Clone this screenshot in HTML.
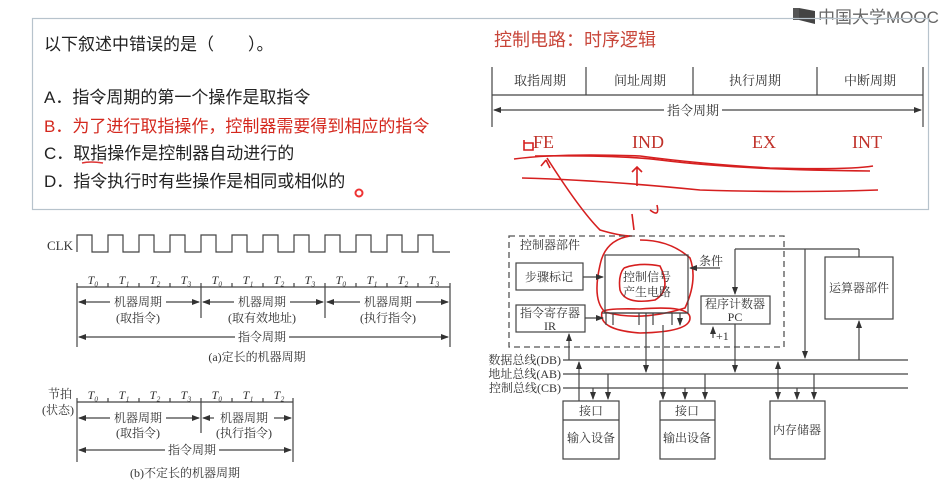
<!DOCTYPE html>
<html><head><meta charset="utf-8"><style>
html,body{margin:0;padding:0;background:#fff;width:945px;height:495px;overflow:hidden}
svg{display:block}
.q{font-family:"Liberation Sans","Noto Sans CJK SC",sans-serif;font-size:17px;fill:#222}
.s{font-family:"Liberation Serif","Noto Serif CJK SC",serif;fill:#333}
</style></head><body>
<svg width="945" height="495" viewBox="0 0 945 495" xmlns="http://www.w3.org/2000/svg">
<defs>
<marker id="a" markerWidth="8" markerHeight="6" refX="7" refY="3" orient="auto" markerUnits="userSpaceOnUse"><path d="M0,0 L8,3 L0,6z" fill="#333"/></marker>
</defs>
<!-- logo -->
<rect x="793" y="8" width="6" height="12" fill="#555"/><path d="M799,8 L815,11 L815,24 L799,20z" fill="#444"/>
<text x="818" y="23" font-family="Liberation Sans,'Noto Sans CJK SC',sans-serif" font-size="17" fill="#666">中国大学MOOC</text>
<!-- question box -->
<rect x="32.5" y="18.5" width="896" height="191" fill="none" stroke="#b7c3cc" stroke-width="1.2"/>
<text class="q" x="44" y="50">以下叙述中错误的是（　　）。</text>
<text class="q" x="44" y="103">A．指令周期的第一个操作是取指令</text>
<text class="q" x="44" y="132" style="fill:#d4281e">B．为了进行取指操作，控制器需要得到相应的指令</text>
<text class="q" x="44" y="159">C．取指操作是控制器自动进行的</text>
<text class="q" x="44" y="187">D．指令执行时有些操作是相同或相似的</text>
<path d="M82,163 Q90,161 103,163" stroke="#d33" stroke-width="1.5" fill="none"/>
<circle cx="359" cy="193" r="3.5" fill="none" stroke="#e33" stroke-width="2"/>
<!-- top right -->
<text x="494" y="46" font-family="Liberation Sans,'Noto Sans CJK SC',sans-serif" font-size="18" fill="#c8463a">控制电路：时序逻辑</text>
<g stroke="#444" stroke-width="1.2" fill="none">
<line x1="492" y1="67" x2="492" y2="127"/><line x1="923" y1="67" x2="923" y2="127"/>
<line x1="586" y1="67" x2="586" y2="95"/><line x1="693" y1="67" x2="693" y2="95"/><line x1="817" y1="67" x2="817" y2="95"/>
<line x1="492" y1="95" x2="923" y2="95"/>
<line x1="664" y1="110" x2="494" y2="110" marker-end="url(#a)"/>
<line x1="722" y1="110" x2="921" y2="110" marker-end="url(#a)"/>
</g>
<g class="s" font-size="13" text-anchor="middle">
<text x="540" y="85">取指周期</text><text x="640" y="85">间址周期</text><text x="755" y="85">执行周期</text><text x="870" y="85">中断周期</text>
<text x="693" y="115">指令周期</text>
</g>
<g font-family="Liberation Serif,serif" font-size="18" fill="#c0322a">
<text x="533" y="148">FE</text><text x="632" y="148">IND</text><text x="752" y="148">EX</text><text x="852" y="148">INT</text>
</g>
<g stroke="#d61f1f" stroke-width="1.6" fill="none">
<path d="M514,159 Q560,153 640,156 Q700,164 770,168 Q850,170 873,166"/>
<path d="M535,156 Q620,155 660,160 Q740,170 870,171"/>
<path d="M522,178 Q600,180 700,190 Q800,193 878,190"/>
<path d="M637,186 L637,167 M632,172 L637,167 L642,172"/>
<path d="M547,158 Q580,210 600,230 Q620,236 632,236"/>
<path d="M546,160 L550,168 M546,160 L541,166"/>
<path d="M524,140 L524,150 L533,150 L533,143 L524,143"/>
<path d="M632,214 L634,230 M650,210 Q660,218 657,205"/>
<path d="M630,236 Q605,240 600,265 Q592,300 605,312 Q640,322 685,308 Q698,280 690,258 Q670,240 640,240"/>
<path d="M624,268 Q640,262 660,266 Q672,290 655,300 Q625,305 620,290 Q618,275 624,268"/>
<path d="M602,312 Q598,330 640,333 Q690,332 690,318 Q690,305 640,309 Q605,308 602,312"/>
</g>
<!-- left timing diagrams -->
<text class="s" x="47" y="250" font-size="13">CLK</text>
<path d="M77,252 L77,235 L92,235 L92,252 L108,252 L108,235 L123,235 L123,252 L139,252 L139,235 L154,235 L154,252 L170,252 L170,235 L185,235 L185,252 L201,252 L201,235 L216,235 L216,252 L232,252 L232,235 L247,235 L247,252 L263,252 L263,235 L278,235 L278,252 L294,252 L294,235 L309,235 L309,252 L325,252 L325,235 L340,235 L340,252 L356,252 L356,235 L371,235 L371,252 L387,252 L387,235 L402,235 L402,252 L418,252 L418,235 L433,235 L433,252 L450,252" stroke="#444" stroke-width="1.2" fill="none"/>
<g stroke="#444" stroke-width="1.2" fill="none">
<line x1="77" y1="287" x2="450" y2="287"/>
<line x1="77" y1="283" x2="77" y2="347"/><line x1="450" y1="283" x2="450" y2="347"/>
<line x1="201" y1="283" x2="201" y2="318"/><line x1="325" y1="283" x2="325" y2="318"/>
<path d="M108,283v4M139,283v4M170,283v4M232,283v4M263,283v4M294,283v4M356,283v4M387,283v4M418,283v4"/>
<line x1="110" y1="302" x2="79" y2="302" marker-end="url(#a)"/><line x1="166" y1="302" x2="199" y2="302" marker-end="url(#a)"/>
<line x1="234" y1="302" x2="203" y2="302" marker-end="url(#a)"/><line x1="290" y1="302" x2="323" y2="302" marker-end="url(#a)"/>
<line x1="360" y1="302" x2="327" y2="302" marker-end="url(#a)"/><line x1="416" y1="302" x2="448" y2="302" marker-end="url(#a)"/>
<line x1="235" y1="337" x2="79" y2="337" marker-end="url(#a)"/><line x1="289" y1="337" x2="448" y2="337" marker-end="url(#a)"/>
<!-- b -->
<line x1="77" y1="402" x2="293" y2="402"/>
<line x1="77" y1="398" x2="77" y2="462"/><line x1="293" y1="398" x2="293" y2="462"/>
<line x1="201" y1="398" x2="201" y2="433"/>
<path d="M108,398v4M139,398v4M170,398v4M232,398v4M263,398v4"/>
<line x1="110" y1="418" x2="79" y2="418" marker-end="url(#a)"/><line x1="166" y1="418" x2="199" y2="418" marker-end="url(#a)"/>
<line x1="214" y1="418" x2="203" y2="418" marker-end="url(#a)"/><line x1="274" y1="418" x2="291" y2="418" marker-end="url(#a)"/>
<line x1="165" y1="450" x2="79" y2="450" marker-end="url(#a)"/><line x1="219" y1="450" x2="291" y2="450" marker-end="url(#a)"/>
</g>
<g class="s" font-size="12" font-style="italic" text-anchor="middle">
<text x="93" y="284">T₀</text><text x="124" y="284">T₁</text><text x="155" y="284">T₂</text><text x="186" y="284">T₃</text>
<text x="217" y="284">T₀</text><text x="248" y="284">T₁</text><text x="279" y="284">T₂</text><text x="310" y="284">T₃</text>
<text x="341" y="284">T₀</text><text x="372" y="284">T₁</text><text x="403" y="284">T₂</text><text x="434" y="284">T₃</text>
<text x="93" y="399">T₀</text><text x="124" y="399">T₁</text><text x="155" y="399">T₂</text><text x="186" y="399">T₃</text>
<text x="217" y="399">T₀</text><text x="248" y="399">T₁</text><text x="279" y="399">T₂</text>
</g>
<g class="s" font-size="12" text-anchor="middle">
<text x="138" y="306">机器周期</text><text x="138" y="322">(取指令)</text>
<text x="262" y="306">机器周期</text><text x="262" y="322">(取有效地址)</text>
<text x="388" y="306">机器周期</text><text x="388" y="322">(执行指令)</text>
<text x="262" y="341">指令周期</text>
<text x="257" y="361">(a)定长的机器周期</text>
<text x="138" y="422">机器周期</text><text x="138" y="437">(取指令)</text>
<text x="244" y="422">机器周期</text><text x="244" y="437">(执行指令)</text>
<text x="192" y="454">指令周期</text>
<text x="185" y="477">(b)不定长的机器周期</text>
<text x="60" y="398">节拍</text><text x="58" y="414">(状态)</text>
</g>
<!-- right block diagram -->
<rect x="509" y="236" width="275" height="111" fill="none" stroke="#555" stroke-width="1.3" stroke-dasharray="6,4"/>
<g stroke="#444" stroke-width="1.2" fill="none">
<rect x="516" y="263" width="67" height="27"/>
<rect x="605" y="255" width="83" height="58"/>
<rect x="516" y="305" width="69" height="27"/>
<rect x="701" y="296" width="69" height="28"/>
<rect x="825" y="257" width="68" height="62"/>
<rect x="563" y="401" width="56" height="58"/><line x1="563" y1="420" x2="619" y2="420"/>
<rect x="660" y="401" width="55" height="58"/><line x1="660" y1="420" x2="715" y2="420"/>
<rect x="770" y="401" width="55" height="58"/>
<line x1="602" y1="313" x2="688" y2="313"/>
<line x1="583" y1="277" x2="603" y2="277" marker-end="url(#a)"/>
<line x1="585" y1="318" x2="603" y2="318" marker-end="url(#a)"/>
<line x1="720" y1="268" x2="690" y2="268" marker-end="url(#a)"/>
<path d="M606,313v12M613,313v12M639,313v12M653,313v12M672,313v12M680,313v12" marker-end="url(#a)"/>
<line x1="735" y1="249" x2="859" y2="249"/>
<line x1="735" y1="249" x2="735" y2="294" marker-end="url(#a)"/>
<line x1="859" y1="249" x2="859" y2="257"/>
<line x1="805" y1="249" x2="805" y2="358" marker-end="url(#a)"/>
<line x1="859" y1="360" x2="859" y2="321" marker-end="url(#a)"/>
<line x1="713" y1="338" x2="713" y2="327" marker-end="url(#a)"/>
<line x1="563" y1="360" x2="908" y2="360"/><line x1="563" y1="374" x2="908" y2="374"/><line x1="563" y1="388" x2="908" y2="388"/>
<line x1="569" y1="360" x2="569" y2="334" marker-end="url(#a)"/>
<line x1="646" y1="313" x2="646" y2="372" marker-end="url(#a)"/>
<line x1="735" y1="324" x2="735" y2="372" marker-end="url(#a)"/>
<line x1="579" y1="401" x2="579" y2="362" marker-end="url(#a)"/>
<line x1="593" y1="388" x2="593" y2="399" marker-end="url(#a)"/>
<line x1="608" y1="374" x2="608" y2="399" marker-end="url(#a)"/>
<line x1="663" y1="325" x2="663" y2="399" marker-end="url(#a)"/>
<line x1="685" y1="388" x2="685" y2="399" marker-end="url(#a)"/>
<line x1="705" y1="374" x2="705" y2="399" marker-end="url(#a)"/>
<line x1="778" y1="380" x2="778" y2="362" marker-end="url(#a)"/>
<line x1="778" y1="380" x2="778" y2="399" marker-end="url(#a)"/>
<line x1="797" y1="388" x2="797" y2="399" marker-end="url(#a)"/>
<line x1="814" y1="374" x2="814" y2="399" marker-end="url(#a)"/>
</g>
<g class="s" font-size="12">
<text x="520" y="249">控制器部件</text>
<text x="549" y="281" text-anchor="middle">步骤标记</text>
<text x="647" y="281" text-anchor="middle">控制信号</text><text x="647" y="296" text-anchor="middle">产生电路</text>
<text x="550" y="317" text-anchor="middle">指令寄存器</text><text x="550" y="330" text-anchor="middle">IR</text>
<text x="735" y="308" text-anchor="middle">程序计数器</text><text x="735" y="321" text-anchor="middle">PC</text>
<text x="859" y="292" text-anchor="middle">运算器部件</text>
<text x="699" y="265">条件</text>
<text x="716" y="340">+1</text>
<text x="561" y="364" text-anchor="end">数据总线(DB)</text>
<text x="561" y="378" text-anchor="end">地址总线(AB)</text>
<text x="561" y="392" text-anchor="end">控制总线(CB)</text>
<text x="591" y="415" text-anchor="middle">接口</text><text x="591" y="442" text-anchor="middle">输入设备</text>
<text x="687" y="415" text-anchor="middle">接口</text><text x="687" y="442" text-anchor="middle">输出设备</text>
<text x="797" y="434" text-anchor="middle">内存储器</text>
</g>
</svg>
</body></html>
